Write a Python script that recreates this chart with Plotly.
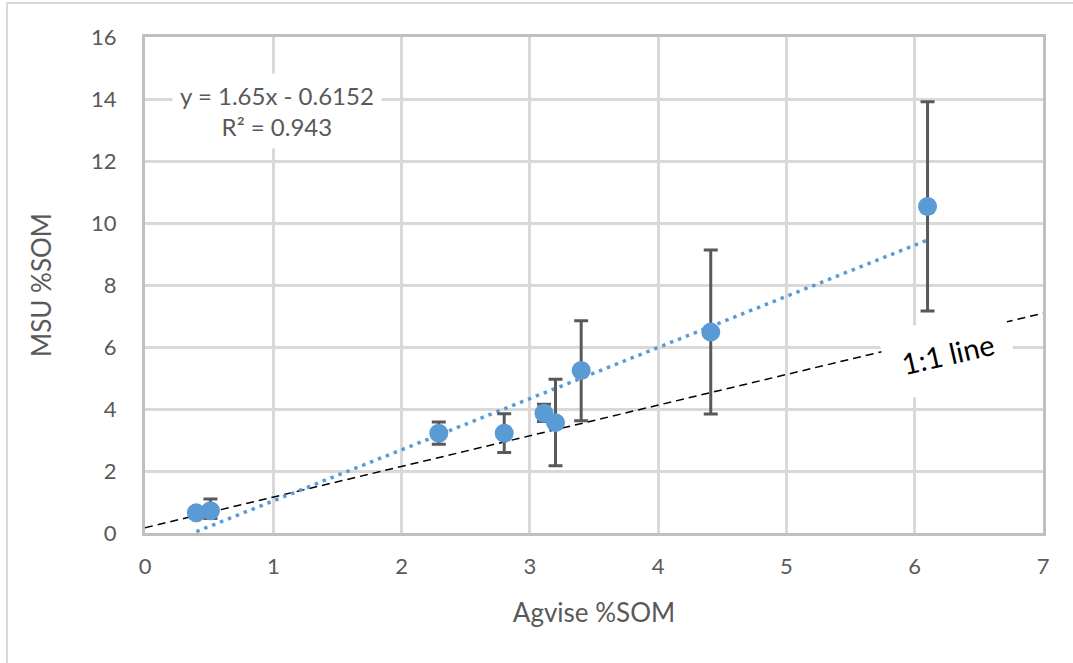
import plotly.graph_objects as go

# ---- data ----
agvise = [0.40, 0.51, 2.29, 2.80, 3.11, 3.20, 3.40, 4.41, 6.10]
msu = [0.65, 0.72, 3.22, 3.22, 3.86, 3.56, 5.24, 6.48, 10.53]
err_plus = [0.05, 0.38, 0.36, 0.63, 0.29, 1.40, 1.61, 2.65, 3.38]
err_minus = [0.05, 0.25, 0.36, 0.62, 0.26, 1.39, 1.62, 2.64, 3.37]

trend_slope = 1.65
trend_intercept = -0.6152
trend_label = "y = 1.65x - 0.6152<br>R² = 0.943"

oneone_x = [0.0, 7.0]
oneone_y = [0.17, 7.09]

x_ticks = [0, 1, 2, 3, 4, 5, 6, 7]
y_ticks = [0, 2, 4, 6, 8, 10, 12, 14, 16]

FONT = "Lato"
GRAY = "#595959"
GRID = "#D9D9D9"
BLUE = "#5B9BD5"

fig = go.Figure()

# 1:1 line
fig.add_trace(go.Scatter(
    x=oneone_x, y=oneone_y, mode="lines",
    line=dict(color="black", width=1.5, dash="8px,5px"),
    hoverinfo="skip", showlegend=False))

# trendline
tx = [min(agvise), max(agvise)]
ty = [trend_slope * v + trend_intercept for v in tx]
fig.add_trace(go.Scatter(
    x=tx, y=ty, mode="lines",
    line=dict(color=BLUE, width=3.5, dash="3.5px,5px"),
    hoverinfo="skip", showlegend=False))

# data points
fig.add_trace(go.Scatter(
    x=agvise, y=msu, mode="markers",
    marker=dict(color=BLUE, size=19),
    error_y=dict(type="data", symmetric=False, array=err_plus, arrayminus=err_minus,
                 color=GRAY, thickness=3, width=7),
    showlegend=False))

fig.add_annotation(x=1.03, y=13.6, xref="x", yref="y", text=trend_label,
                   showarrow=False, bgcolor="white", align="center",
                   font=dict(family=FONT, size=24, color=GRAY), borderpad=7)

fig.add_annotation(x=6.26, y=5.8, xref="x", yref="y", text="1:1 line",
                   showarrow=False, bgcolor="white", textangle=-13,
                   font=dict(family=FONT, size=29, color="black"), borderpad=17)

# outer chart border
fig.add_shape(type="rect", xref="paper", yref="paper",
              x0=-0.1537, x1=1.045, y0=-0.28, y1=1.0685,
              line=dict(color=GRID, width=2), fillcolor="rgba(0,0,0,0)", layer="below")

fig.update_layout(
    width=1073, height=663,
    margin=dict(l=145, r=30, t=37, b=130),
    paper_bgcolor="white", plot_bgcolor="white",
    font=dict(family=FONT, color=GRAY),
    xaxis=dict(range=[0, 7], tickvals=x_ticks, showgrid=True, gridcolor=GRID, gridwidth=3,
               zeroline=False, showline=True, linecolor="#BFBFBF", linewidth=3, mirror=True,
               ticks="outside", ticklen=12, tickcolor="rgba(0,0,0,0)",
               tickfont=dict(family=FONT, size=22, color=GRAY),
               title=dict(text="Agvise %SOM", font=dict(family=FONT, size=26, color=GRAY), standoff=26)),
    yaxis=dict(range=[0, 16], tickvals=y_ticks, showgrid=True, gridcolor=GRID, gridwidth=3,
               zeroline=False, showline=True, linecolor="#BFBFBF", linewidth=3, mirror=True,
               ticks="outside", ticklen=21, tickcolor="rgba(0,0,0,0)",
               tickfont=dict(family=FONT, size=22, color=GRAY),
               title=dict(text="MSU %SOM", font=dict(family=FONT, size=26, color=GRAY), standoff=32)),
)

fig.write_html("out.html", config={"displayModeBar": False},
               post_script="document.body.style.margin='0';")
